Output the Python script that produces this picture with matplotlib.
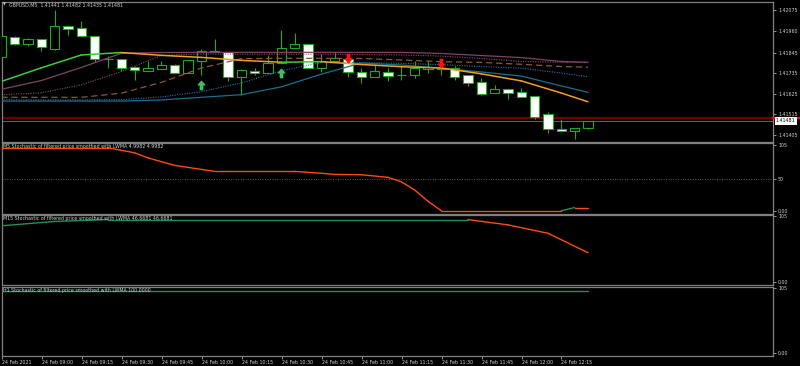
import matplotlib.pyplot as plt
from matplotlib.path import Path
import numpy as np

plt.rcParams['font.family'] = ['DejaVu Sans']

W, H = 800, 366

# ---------------- data ----------------
opens = [1.41823, 1.41932, 1.41891, 1.41920, 1.41866, 1.41988, 1.41977, 1.41934, 1.41812, 1.41812,
         1.41768, 1.41750, 1.41760, 1.41780, 1.41739, 1.41803, 1.41857, 1.41848, 1.41715, 1.41749,
         1.41736, 1.41791, 1.41870, 1.41891, 1.41762, 1.41800, 1.41812, 1.41744, 1.41715, 1.41744,
         1.41727, 1.41727, 1.41760, 1.41762, 1.41762, 1.41727, 1.41689, 1.41629, 1.41652, 1.41634,
         1.41614, 1.41516, 1.41437, 1.41426, 1.41441]
highs = [1.41940, 1.41933, 1.41927, 1.41920, 1.42075, 1.41990, 1.42016, 1.41935, 1.41828, 1.41812,
         1.41776, 1.41802, 1.41802, 1.41786, 1.41807, 1.41868, 1.41922, 1.41850, 1.41760, 1.41762,
         1.41834, 1.41966, 1.41950, 1.41893, 1.41839, 1.41850, 1.41812, 1.41762, 1.41784, 1.41762,
         1.41777, 1.41803, 1.41799, 1.41779, 1.41776, 1.41727, 1.41709, 1.41671, 1.41654, 1.41655,
         1.41614, 1.41530, 1.41493, 1.41441, 1.41482]
lows = [1.41820, 1.41887, 1.41884, 1.41857, 1.41861, 1.41941, 1.41933, 1.41798, 1.41764, 1.41749,
        1.41700, 1.41748, 1.41760, 1.41737, 1.41737, 1.41727, 1.41848, 1.41696, 1.41620, 1.41727,
        1.41736, 1.41791, 1.41870, 1.41762, 1.41744, 1.41800, 1.41715, 1.41682, 1.41715, 1.41692,
        1.41702, 1.41709, 1.41736, 1.41727, 1.41700, 1.41668, 1.41620, 1.41629, 1.41598, 1.41611,
        1.41491, 1.41417, 1.41428, 1.41386, 1.41435]
closes = [1.41936, 1.41893, 1.41920, 1.41875, 1.41988, 1.41972, 1.41934, 1.41812, 1.41811, 1.41766,
          1.41753, 1.41762, 1.41779, 1.41739, 1.41807, 1.41857, 1.41848, 1.41715, 1.41753, 1.41736,
          1.41793, 1.41870, 1.41891, 1.41762, 1.41800, 1.41816, 1.41744, 1.41715, 1.41748, 1.41723,
          1.41728, 1.41762, 1.41767, 1.41761, 1.41718, 1.41682, 1.41625, 1.41652, 1.41632, 1.41611,
          1.41503, 1.41435, 1.41428, 1.41441, 1.41481]

time_labels = ["24 Feb 2021", "24 Feb 09:00", "24 Feb 09:15", "24 Feb 09:30", "24 Feb 09:45",
               "24 Feb 10:00", "24 Feb 10:15", "24 Feb 10:30", "24 Feb 10:45", "24 Feb 11:00",
               "24 Feb 11:15", "24 Feb 11:30", "24 Feb 11:45", "24 Feb 12:00", "24 Feb 12:15"]
time_label_bars = [0, 3, 6, 9, 12, 15, 18, 21, 24, 27, 30, 33, 36, 39, 42]
price_ticks = [1.42075, 1.41960, 1.41845, 1.41735, 1.41625, 1.41515, 1.41405]

# moving averages sampled every 15 minutes (bar index)
ma_bars = [0, 3, 6, 9, 12, 15, 18, 21, 24, 27, 30, 33, 36, 39, 42, 44]
ma_fast = [1.41692, 1.41765, 1.41834, 1.41847, 1.41832, 1.41821, 1.41805, 1.41795,
           1.41798, 1.41783, 1.41771, 1.41764, 1.41733, 1.41695, 1.41630, 1.41583]
ma_maroon = [1.41650, 1.41697, 1.41767, 1.41843, 1.41847, 1.41848, 1.41848, 1.41848,
             1.41848, 1.41848, 1.41848, 1.41842, 1.41831, 1.41820, 1.41799, 1.41795]
ma_maroon_dot = [1.41621, 1.41631, 1.41674, 1.41745, 1.41832, 1.41839, 1.41838, 1.41838,
                 1.41838, 1.41836, 1.41834, 1.41828, 1.41815, 1.41799, 1.41795, 1.41793]
ma_brown_dash = [1.41607, 1.41607, 1.41607, 1.41629, 1.41687, 1.41764, 1.41814, 1.41816,
                 1.41816, 1.41815, 1.41807, 1.41798, 1.41794, 1.41784, 1.41772, 1.41768]
ma_blue_dot = [1.41593, 1.41593, 1.41593, 1.41595, 1.41609, 1.41637, 1.41684, 1.41749,
               1.41793, 1.41793, 1.41789, 1.41782, 1.41772, 1.41763, 1.41737, 1.41717]
ma_teal = [1.41587, 1.41587, 1.41587, 1.41587, 1.41593, 1.41607, 1.41621, 1.41663,
           1.41731, 1.41791, 1.41780, 1.41763, 1.41743, 1.41721, 1.41668, 1.41634]

up_arrow_bars = [15, 21]
up_arrow_prices = [1.41673, 1.41737]
down_arrow_bars = [26, 33]
down_arrow_prices = [1.41820, 1.41793]

red_level = 1.41496
bid = closes[-1]

# stochastic panes (bar index, value, trend state)
m5_bars = [0, 8, 10, 11, 13, 16, 22, 24, 25, 27, 29, 30, 31, 32, 33, 42, 43, 44]
m5_vals = [100, 100, 92, 84, 72, 62.5, 62.5, 59.5, 57.7, 57.2, 53, 46, 33, 15, 0, 0, 5.0, 5.0]
m5_trend = [-1] * 16 + [1, -1]
m15_bars = [0, 4, 8, 35, 38, 41, 44]
m15_vals = [90, 97, 100, 100, 91.5, 78, 46.7]
m15_trend = [1, 1, 1, 1, -1, -1, -1]
h1_bars = [0, 44]
h1_vals = [100, 100]
h1_trend = [1, 1]

# ---------------- drawing ----------------
BG = 'black'
FRAME = '#808080'
TXT = '#d0d0d0'
CANDLE = '#1faa1f'
FS = 3.4

fig = plt.figure(figsize=(W / 100, H / 100), dpi=100, facecolor=BG)


def pane(top, bottom, left=2, right=773):
    ax = fig.add_axes([left / W, 1 - bottom / H, (right - left) / W, (bottom - top) / H])
    ax.set_facecolor(BG)
    for s in ax.spines.values():
        s.set_color(FRAME)
        s.set_linewidth(0.9)
    ax.set_xlim(0.05, 57.88)
    ax.set_xticks([])
    ax.yaxis.tick_right()
    ax.tick_params(axis='y', direction='out', length=2.5, width=0.5, colors=TXT,
                   labelsize=FS, pad=1.2)
    return ax


def colored_line(ax, xs, ys, flags, up_col, dn_col, lw):
    for k in range(len(xs) - 1):
        c = up_col if flags[k + 1] > 0 else dn_col
        ax.plot(xs[k:k + 2], ys[k:k + 2], color=c, lw=lw, solid_capstyle='round', zorder=4)


# main price pane
ax = pane(1.5, 142)
ax.set_ylim(1.4212860 - 0.0000536 * 142, 1.4212860 - 0.0000536 * 1.5)
ax.set_yticks(price_ticks)
ax.set_yticklabels([f"{p:.5f}" for p in price_ticks])

idx = np.arange(len(opens))
o, h, l, c = map(np.array, (opens, highs, lows, closes))
ax.vlines(idx, l, h, color=CANDLE, lw=0.8, zorder=2)
bull = c >= o
ax.bar(idx, c - o, bottom=o, width=0.7,
       color=np.where(bull, 'black', 'white'), edgecolor=CANDLE, linewidth=0.8, zorder=3)

ax.axhline(red_level, color='#6e0000', lw=1.6, zorder=1)
ax.axhline(bid, color='#6a7585', lw=0.6, zorder=1)

ax.plot(ma_bars, ma_maroon, color='#7d4560', lw=0.9, zorder=4)
ax.plot(ma_bars, ma_maroon_dot, color='#8a5070', lw=0.8, ls=(0, (1, 1.2)), zorder=4)
ax.plot(ma_bars, ma_brown_dash, color='#8a5a2c', lw=0.9, ls=(0, (5, 3)), zorder=4)
ax.plot(ma_bars, ma_blue_dot, color='#1e78b4', lw=0.8, ls=(0, (1, 1.2)), zorder=4)
ax.plot(ma_bars, ma_teal, color='#1a6f8c', lw=0.9, zorder=4)
fast_flags = [1] + [1 if b > a else -1 for a, b in zip(ma_fast[:-1], ma_fast[1:])]
colored_line(ax, ma_bars, ma_fast, fast_flags, '#3ccc3c', '#f0a020', 1.1)

up_arrow = Path([(0, 1), (0.75, 0.15), (0.28, 0.15), (0.28, -1), (-0.28, -1),
                 (-0.28, 0.15), (-0.75, 0.15), (0, 1)], closed=True)
down_arrow = Path([(x, -y) for x, y in up_arrow.vertices], closed=True)
ax.plot(up_arrow_bars, up_arrow_prices, ls='none', marker=up_arrow, ms=6,
        color='#3cc060', zorder=5)
ax.plot(down_arrow_bars, down_arrow_prices, ls='none', marker=down_arrow, ms=6,
        color='#ff1010', zorder=5)

# red level tag and bid box on the price scale
ax.plot([1.0, 1.035], [red_level, red_level], transform=ax.get_yaxis_transform(),
        color='#ff0000', lw=1.6, clip_on=False, zorder=6)
ax.text(1.0035, bid, f"{bid:.5f}", transform=ax.get_yaxis_transform(), fontsize=FS,
        color='black', va='center', ha='left', zorder=7,
        bbox=dict(boxstyle='square,pad=0.25', fc='white', ec='white', lw=0))

ax.text(1.0 / 771, 1 - 3.5 / 140.5, "\u25bc", transform=ax.transAxes, fontsize=FS - 0.8,
        color=TXT, va='center', ha='left')
ax.text(7.0 / 771, 1 - 3.5 / 140.5, "GBPUSD,M5  1.41441 1.41482 1.41435 1.41481",
        transform=ax.transAxes, fontsize=FS, color=TXT, va='center', ha='left')


def stoch_pane(top, bottom, bars, vals, trend, title, ticks):
    a = pane(top, bottom)
    hp = bottom - top
    ppu = (hp - 7.6) / 100.0
    a.set_ylim(-3.3 / ppu, 100 + 4.3 / ppu)
    a.set_yticks(ticks)
    a.set_yticklabels(["0.00" if t == 0 else str(t) for t in ticks])
    colored_line(a, bars, vals, trend, '#2a8c55', '#ff4a10', 1.0)
    a.text(1.0 / 771, 1 - 3.5 / hp, title, transform=a.transAxes, fontsize=FS,
           color=TXT, va='center', ha='left', zorder=6)
    return a


a1 = stoch_pane(143.5, 214, m5_bars, m5_vals, m5_trend,
                "M5 Stochastic of filtered price smoothed with LWMA 4.9982 4.9982", [0, 50, 105])
a1.axhline(50, color='#606060', lw=0.7, ls=(0, (1, 1.5)), zorder=1)
a2 = stoch_pane(215.3, 285, m15_bars, m15_vals, m15_trend,
                "M15 Stochastic of filtered price smoothed with LWMA 46.6681 46.6681", [0, 105])
a3 = stoch_pane(286.7, 356, h1_bars, h1_vals, h1_trend,
                "H1 Stochastic of filtered price smoothed with LWMA 100.0000", [0, 105])

a3.set_xticks(time_label_bars)
a3.set_xticklabels(time_labels, ha='left')
a3.tick_params(axis='x', direction='out', length=2.2, width=0.5, colors=TXT,
               labelsize=FS, pad=1.0)

fig.savefig("out.png", dpi=100, facecolor=BG)
